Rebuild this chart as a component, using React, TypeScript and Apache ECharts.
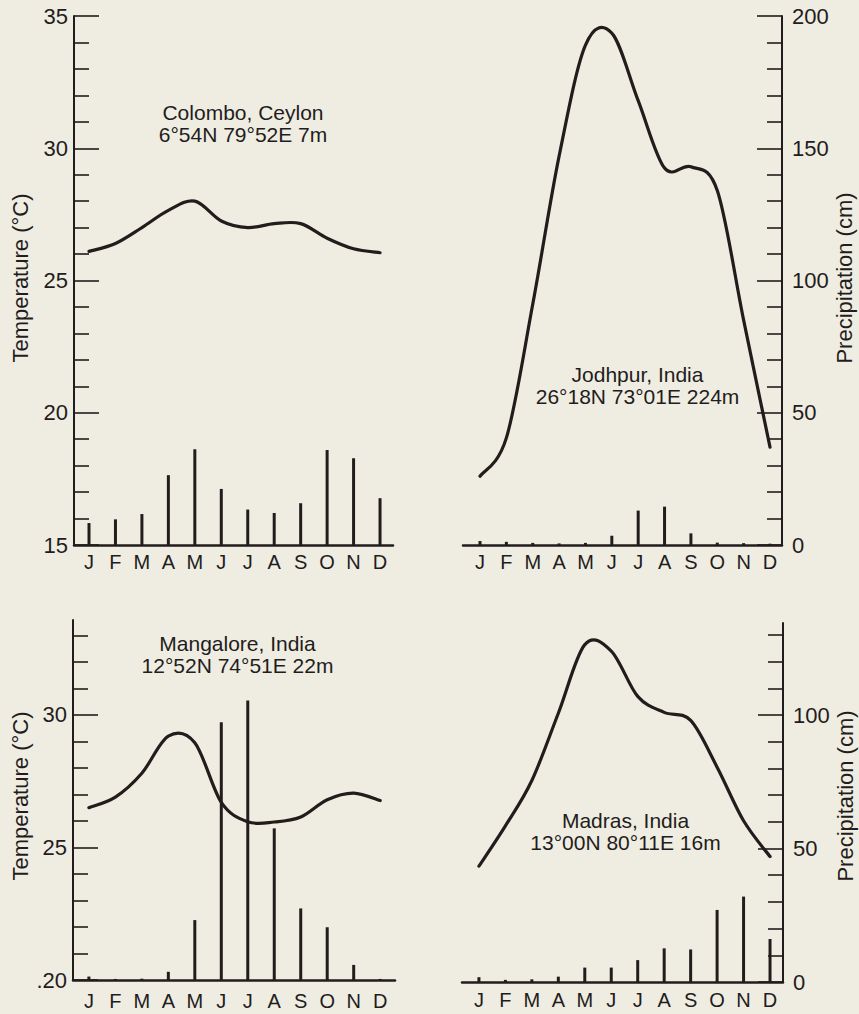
import React, { useEffect, useRef } from "react";
import * as echarts from "echarts";

// ---------- data ----------
const MONTHS = ["J", "F", "M", "A", "M", "J", "J", "A", "S", "O", "N", "D"];

const COLOMBO_TEMP = [26.1, 26.4, 27.0, 27.65, 28.0, 27.25, 27.0, 27.15, 27.15, 26.6, 26.2, 26.05];
const COLOMBO_PRECIP = [8.3, 9.7, 11.7, 26.4, 36.2, 21.2, 13.4, 12.1, 15.8, 35.9, 32.8, 17.7];

const JODHPUR_TEMP = [17.6, 19.05, 24.1, 29.7, 33.9, 34.35, 31.8, 29.25, 29.3, 28.4, 23.5, 18.7];
const JODHPUR_PRECIP = [1.5, 1.2, 0.8, 0.6, 0.8, 3.5, 13.0, 14.5, 4.4, 0.9, 0.7, 0.5];

const MANGALORE_TEMP = [26.5, 26.9, 27.8, 29.2, 28.95, 26.7, 25.97, 25.96, 26.15, 26.8, 27.05, 26.77];
const MANGALORE_PRECIP = [1.3, 0.4, 0.5, 3.1, 22.6, 97.2, 105.4, 57.2, 27.0, 19.9, 5.7, 0.4];

const MADRAS_TEMP = [24.34, 25.85, 27.55, 30.07, 32.64, 32.4, 30.7, 30.1, 29.8, 28.05, 26.04, 24.7];
const MADRAS_PRECIP = [1.8, 0.8, 1.0, 2.0, 5.4, 5.4, 8.2, 12.6, 12.2, 27.0, 32.0, 16.1];

const TEMP_TICKS_TOP = [15, 20, 25, 30, 35];
const TEMP_TICKS_BOTTOM = [20, 25, 30];
const PRECIP_TICKS_TOP = [0, 50, 100, 150, 200];
const PRECIP_TICKS_BOTTOM = [0, 50, 100];

const STATIONS = [
  ["Colombo, Ceylon", "6°54N 79°52E 7m"],
  ["Jodhpur, India", "26°18N 73°01E 224m"],
  ["Mangalore, India", "12°52N 74°51E 22m"],
  ["Madras, India", "13°00N 80°11E 16m"],
];

const TEMP_NAME = "Temperature (°C)";
const PRECIP_NAME = "Precipitation (cm)";

// ---------- styling ----------
const FONT = "'Liberation Sans', Arial, Helvetica, sans-serif";
const INK = "#231c1c";
const BG = "#efede2";
const MONTH_IDX = MONTHS.map((_, i) => i);

type Panel = {
  grid: { left: number; top: number; width: number; height: number };
  xmin: number;
  xmax: number;
  tMin: number;
  tMax: number;
  pMax: number;
  side: "left" | "right";
  temp: number[];
  prec: number[];
  ticks: number[];
  labelMargin: number;
  fmt?: (v: number) => string;
};

const PANELS: Panel[] = [
  {
    grid: { left: 74, top: 16, width: 319, height: 529 },
    xmin: -0.567, xmax: 11.49, tMin: 15, tMax: 35, pMax: 200, side: "left",
    temp: COLOMBO_TEMP, prec: COLOMBO_PRECIP, ticks: TEMP_TICKS_TOP, labelMargin: 7,
  },
  {
    grid: { left: 463, top: 16, width: 319, height: 529 },
    xmin: -0.645, xmax: 11.455, tMin: 15, tMax: 35, pMax: 200, side: "right",
    temp: JODHPUR_TEMP, prec: JODHPUR_PRECIP, ticks: PRECIP_TICKS_TOP, labelMargin: 7,
  },
  {
    grid: { left: 73, top: 620, width: 322, height: 360 },
    xmin: -0.6, xmax: 11.56, tMin: 20, tMax: 33.58, pMax: 135.8, side: "left",
    temp: MANGALORE_TEMP, prec: MANGALORE_PRECIP, ticks: TEMP_TICKS_BOTTOM, labelMargin: 11,
    fmt: (v: number) => (v === 20 ? ".20" : String(v)),
  },
  {
    grid: { left: 462, top: 623, width: 321, height: 359 },
    xmin: -0.64, xmax: 11.49, tMin: 20, tMax: 33.45, pMax: 134.5, side: "right",
    temp: MADRAS_TEMP, prec: MADRAS_PRECIP, ticks: PRECIP_TICKS_BOTTOM, labelMargin: 8,
  },
];

// Catmull-Rom curve through the projected data points (drawing style only)
function splinePath(pts: number[][]) {
  let d = `M${pts[0][0]},${pts[0][1]}`;
  for (let i = 0; i < pts.length - 1; i++) {
    const p0 = pts[i - 1] || pts[i];
    const p1 = pts[i];
    const p2 = pts[i + 1];
    const p3 = pts[i + 2] || p2;
    const c1x = p1[0] + (p2[0] - p0[0]) / 6;
    const c1y = p1[1] + (p2[1] - p0[1]) / 6;
    const c2x = p2[0] - (p3[0] - p1[0]) / 6;
    const c2y = p2[1] - (p3[1] - p1[1]) / 6;
    d += ` C${c1x},${c1y} ${c2x},${c2y} ${p2[0]},${p2[1]}`;
  }
  return d;
}

function buildOption() {
  const grids: any[] = [];
  const xAxes: any[] = [];
  const yAxes: any[] = [];
  const series: any[] = [];

  PANELS.forEach((p, i) => {
    grids.push({ ...p.grid, containLabel: false });
    xAxes.push({
      type: "value",
      gridIndex: i,
      min: p.xmin,
      max: p.xmax,
      position: "bottom",
      axisLine: { show: true, onZero: false, lineStyle: { color: INK, width: 2.5 } },
      axisTick: { show: false },
      splitLine: { show: false },
      axisLabel: {
        customValues: MONTH_IDX,
        formatter: (v: number) => MONTHS[Math.round(v)] ?? "",
        margin: p.labelMargin,
        fontSize: 20,
        fontFamily: FONT,
        color: INK,
      },
    });

    const visibleAxisCommon = {
      axisLine: { show: true, onZero: false, lineStyle: { color: INK, width: 2 } },
      axisTick: {
        show: true,
        inside: true,
        length: 25,
        customValues: p.ticks,
        lineStyle: { color: INK, width: 1.6 },
      },
      minorTick: { show: true, splitNumber: 5, length: 15, lineStyle: { color: INK, width: 1.6 } },
      splitLine: { show: false },
      minorSplitLine: { show: false },
      axisLabel: {
        customValues: p.ticks,
        margin: p.side === "left" ? 6 : 10,
        fontSize: 22,
        fontFamily: FONT,
        color: INK,
        formatter: p.fmt ?? ((v: number) => String(v)),
      },
    };
    const hidden = { show: false, axisLine: { onZero: false } };

    const tempIdx = yAxes.length;
    yAxes.push({
      type: "value",
      gridIndex: i,
      position: "left",
      min: p.tMin,
      max: p.tMax,
      interval: 5,
      ...(p.side === "left" ? visibleAxisCommon : hidden),
    });
    const precIdx = yAxes.length;
    yAxes.push({
      type: "value",
      gridIndex: i,
      position: "right",
      min: 0,
      max: p.pMax,
      interval: 50,
      ...(p.side === "right" ? visibleAxisCommon : hidden),
    });

    series.push({
      type: "bar",
      xAxisIndex: i,
      yAxisIndex: precIdx,
      data: p.prec.map((v, k) => [k, v]),
      barWidth: 3,
      itemStyle: { color: INK },
      silent: true,
    });

    const temps = p.temp;
    series.push({
      type: "custom",
      xAxisIndex: i,
      yAxisIndex: tempIdx,
      data: temps.map((v, k) => [k, v]),
      encode: { x: 0, y: 1 },
      clip: false,
      silent: true,
      renderItem: (params: any, api: any) => {
        if (params.dataIndex !== 0) return { type: "group", children: [] };
        const pts = temps.map((v, k) => api.coord([k, v]));
        return {
          type: "path",
          shape: { pathData: splinePath(pts) },
          style: {
            fill: "none",
            stroke: INK,
            lineWidth: 3.2,
            lineCap: "round",
            lineJoin: "round",
          },
        };
      },
    });
  });

  const txt = (x: number, y: number, text: string, size: number, rotation = 0) => ({
    type: "text",
    x,
    y,
    rotation,
    silent: true,
    style: {
      text,
      fill: INK,
      fontSize: size,
      fontFamily: FONT,
      align: "center",
      verticalAlign: "middle",
      textAlign: "center",
      textVerticalAlign: "middle",
    },
  });

  const titlePos = [
    [243, 112.5],
    [637.5, 374],
    [237.5, 643.7],
    [625.5, 820.8],
  ];
  const graphic: any[] = [];
  STATIONS.forEach((s, i) => {
    const [cx, cy] = titlePos[i];
    graphic.push(txt(cx, cy, s[0], 21));
    graphic.push(txt(cx, cy + 22, s[1], 21));
  });
  graphic.push(txt(20, 278, TEMP_NAME, 22, Math.PI / 2));
  graphic.push(txt(20, 796, TEMP_NAME, 22, Math.PI / 2));
  graphic.push(txt(844, 278, PRECIP_NAME, 22, Math.PI / 2));
  graphic.push(txt(845, 796, PRECIP_NAME, 22, Math.PI / 2));

  return {
    animation: false,
    backgroundColor: BG,
    grid: grids,
    xAxis: xAxes,
    yAxis: yAxes,
    series,
    graphic,
  };
}

export default function App() {
  const ref = useRef<HTMLDivElement>(null);
  useEffect(() => {
    document.body.style.margin = "0";
    document.body.style.background = BG;
    if (!ref.current) return;
    const chart = echarts.init(ref.current, undefined, { renderer: "svg" });
    chart.setOption(buildOption() as any);
    return () => chart.dispose();
  }, []);
  return (
    <div
      ref={ref}
      style={{ position: "absolute", left: 0, top: 0, width: 859, height: 1014 }}
    />
  );
}
